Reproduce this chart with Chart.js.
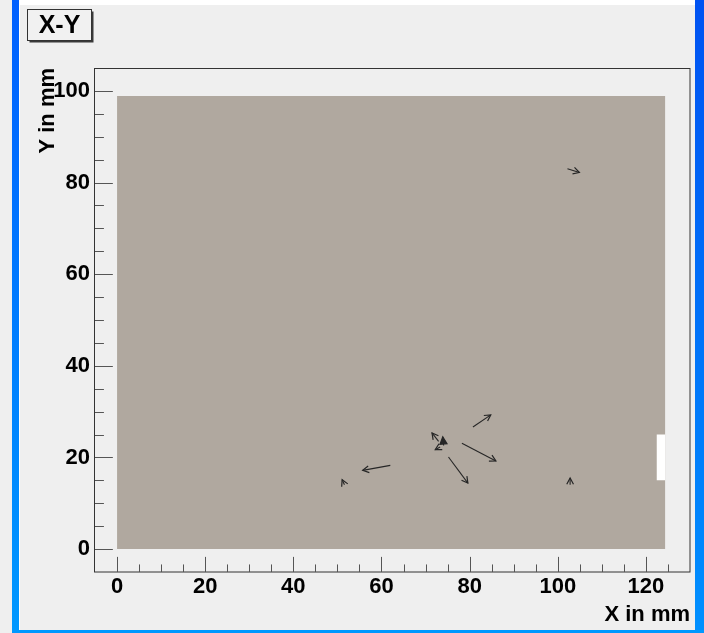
<!DOCTYPE html>
<html>
<head>
<meta charset="utf-8">
<script src="https://cdn.jsdelivr.net/npm/chart.js@4/dist/chart.umd.min.js"></script>
<style>
  html, body { margin: 0; padding: 0; background: #efefef; }
  #wrap { position: relative; width: 704px; height: 633px; overflow: hidden; background: #efefef; }
  #c { position: absolute; left: 0; top: 0; }
  .deco { position: absolute; pointer-events: none; z-index: 2; }
</style>
</head>
<body>
<div id="wrap">
  <canvas id="c" width="704" height="633"></canvas>
  <div class="deco" style="left:12px;top:0;width:7px;height:633px;background:linear-gradient(#0060ff,#0098ff);"></div>
  <div class="deco" style="left:19px;top:0;width:1px;height:630px;background:#ffffff;"></div>
  <div class="deco" style="left:20px;top:0;width:675px;height:5px;background:#ffffff;"></div>
  <div class="deco" style="left:695px;top:0;width:9px;height:633px;background:linear-gradient(#0052f2,#0090ff);"></div>
  <div class="deco" style="left:12px;top:630px;width:692px;height:3px;background:#0098ff;"></div>
</div>
<script>
// ---- data ----
const histTitle = 'X-Y';
const xAxisTitle = 'X in mm';
const yAxisTitle = 'Y in mm';

// axis ranges and tick labels
const xRange = [-5, 130];
const yRange = [-5, 105];
const xTickValues = [0, 20, 40, 60, 80, 100, 120];
const xTickLabels = ['0', '20', '40', '60', '80', '100', '120'];
const yTickValues = [0, 20, 40, 60, 80, 100];
const yTickLabels = ['0', '20', '40', '60', '80', '100'];
const minorStep = 5;

// sensitive area (mm) and the dead strip on its right edge
const areaX = [0, 124.4];
const areaY = [0, 98.9];
const deadX = [122.4, 124.4];
const deadY = [15, 25];

// track segments: tail -> head, in mm
const tailX = [80.75, 78.25, 75.2, 62.0, 51.6, 72.96, 73.3, 74.1, 102.2, 102.8];
const tailY = [26.66, 23.08, 20.1, 18.27, 14.05, 23.51, 22.29, 22.6, 83.0, 14.05];
const headX = [84.8, 85.96, 79.6, 55.74, 51.07, 71.46, 72.2, 73.9, 104.9, 102.8];
const headY = [29.3, 19.23, 14.4, 17.18, 15.14, 25.35, 21.7, 24.5, 82.2, 15.5];
// which tracks end in a solid head
const solidHead = [false, false, false, false, false, false, false, true, false, false];

// ---- chart ----
const FONT = '"Liberation Sans", Arial, Helvetica, sans-serif';

// lower "order" is painted later (on top)
const datasets = [
  {
    label: 'area',
    order: 3,
    data: [{ x: areaX[0], y: areaY[1] }, { x: areaX[1], y: areaY[1] }],
    showLine: true, fill: 'origin',
    backgroundColor: '#b0a89f', borderWidth: 0, pointRadius: 0
  },
  {
    label: 'dead strip',
    order: 2,
    data: [{ x: deadX[0], y: deadY[1] }, { x: deadX[1], y: deadY[1] }],
    showLine: true, fill: { value: deadY[0] },
    backgroundColor: '#ffffff', borderWidth: 0, pointRadius: 0
  }
];
for (let i = 0; i < tailX.length; i++) {
  datasets.push({
    label: 'track ' + (i + 1),
    order: 1,
    isArrow: true,
    solid: solidHead[i],
    data: [{ x: tailX[i], y: tailY[i] }, { x: headX[i], y: headY[i] }],
    showLine: true, fill: false,
    borderColor: '#262626', borderWidth: 1.1, pointRadius: 0
  });
}

// arrow heads at the last point of every track dataset
const arrowHeads = {
  id: 'arrowHeads',
  afterDatasetsDraw(chart) {
    const ctx = chart.ctx;
    chart.data.datasets.forEach((ds, di) => {
      if (!ds.isArrow) return;
      const pts = chart.getDatasetMeta(di).data;
      const a = pts[0], b = pts[pts.length - 1];
      const ang = Math.atan2(b.y - a.y, b.x - a.x);
      const len = ds.solid ? 8 : 7, spread = ds.solid ? 0.45 : 0.5;
      ctx.save();
      ctx.strokeStyle = ds.borderColor;
      ctx.fillStyle = ds.borderColor;
      ctx.lineWidth = 1.2;
      ctx.beginPath();
      ctx.moveTo(b.x - len * Math.cos(ang - spread), b.y - len * Math.sin(ang - spread));
      ctx.lineTo(b.x, b.y);
      ctx.lineTo(b.x - len * Math.cos(ang + spread), b.y - len * Math.sin(ang + spread));
      if (ds.solid) { ctx.closePath(); ctx.fill(); }
      ctx.stroke();
      ctx.restore();
    });
  }
};

// frame, inward tick marks and the title box
const frameAndTicks = {
  id: 'frameAndTicks',
  afterDraw(chart) {
    const ctx = chart.ctx;
    const { left, right, top, bottom } = chart.chartArea;
    const xs = chart.scales.x, ys = chart.scales.y;
    ctx.save();
    // frame
    ctx.strokeStyle = '#333333';
    ctx.lineWidth = 1;
    ctx.strokeRect(Math.round(left) - 0.5, Math.round(top) + 0.5, Math.round(right - left) + 0.5, Math.round(bottom - top) - 0.5);

    // ticks
    ctx.strokeStyle = '#555555';
    const xMajor = (bottom - top) * 0.03, yMajor = (right - left) * 0.03;
    ctx.beginPath();
    for (let v = xRange[0] + minorStep; v < xRange[1]; v += minorStep) {
      const px = Math.round(xs.getPixelForValue(v)) + 0.5;
      const l = xTickValues.includes(v) ? xMajor : xMajor / 2;
      ctx.moveTo(px, bottom);
      ctx.lineTo(px, bottom - l);
    }
    for (let v = yRange[0] + minorStep; v < yRange[1]; v += minorStep) {
      const py = Math.round(ys.getPixelForValue(v)) + 0.5;
      const l = yTickValues.includes(v) ? yMajor : yMajor / 2;
      ctx.moveTo(left, py);
      ctx.lineTo(left + l, py);
    }
    ctx.stroke();

    // title box with shadow
    const bx = 27.5, by = 9.5, bw = 64, bh = 31;
    ctx.fillStyle = '#3a3a3a';
    ctx.fillRect(bx + 2, by + 2, bw, bh);
    ctx.fillStyle = '#f1f1f1';
    ctx.fillRect(bx, by, bw, bh);
    ctx.strokeStyle = '#333333';
    ctx.strokeRect(bx, by, bw, bh);
    ctx.fillStyle = '#000000';
    ctx.font = 'bold 25px ' + FONT;
    ctx.textAlign = 'center';
    ctx.textBaseline = 'middle';
    ctx.fillText(histTitle, bx + bw / 2, by + bh / 2 + 1);
    ctx.restore();
  }
};

new Chart(document.getElementById('c'), {
  type: 'scatter',
  data: { datasets },
  options: {
    responsive: false,
    animation: false,
    devicePixelRatio: 1,
    layout: { padding: { left: 0, right: 14, top: 68, bottom: 0 } },
    plugins: { legend: { display: false }, tooltip: { enabled: false } },
    scales: {
      x: {
        type: 'linear', position: 'bottom',
        min: xRange[0], max: xRange[1],
        grid: { display: false, drawTicks: false },
        border: { display: false },
        afterBuildTicks: s => { s.ticks = xTickValues.map(v => ({ value: v })); },
        afterFit: s => { s.height = 61; },
        ticks: {
          autoSkip: false, maxRotation: 0, padding: 2,
          color: '#000000',
          font: { family: FONT, size: 22, weight: 'bold' },
          callback: (v, i) => xTickLabels[i]
        },
        title: {
          display: true, text: xAxisTitle, align: 'end', color: '#000000',
          font: { family: FONT, size: 22, weight: 'bold' },
          padding: { top: 0, bottom: 5 }
        }
      },
      y: {
        type: 'linear', position: 'left',
        min: yRange[0], max: yRange[1],
        grid: { display: false, drawTicks: false },
        border: { display: false },
        afterBuildTicks: s => { s.ticks = yTickValues.map(v => ({ value: v })); },
        afterFit: s => { s.width = 95; },
        ticks: {
          autoSkip: false, padding: 5,
          color: '#000000',
          font: { family: FONT, size: 22, weight: 'bold' },
          callback: (v, i) => yTickLabels[i]
        },
        title: {
          display: true, text: yAxisTitle, align: 'end', color: '#000000',
          font: { family: FONT, size: 22, weight: 'bold' },
          padding: { top: 35, bottom: 0 }
        }
      }
    }
  },
  plugins: [arrowHeads, frameAndTicks]
});
</script>
</body>
</html>
